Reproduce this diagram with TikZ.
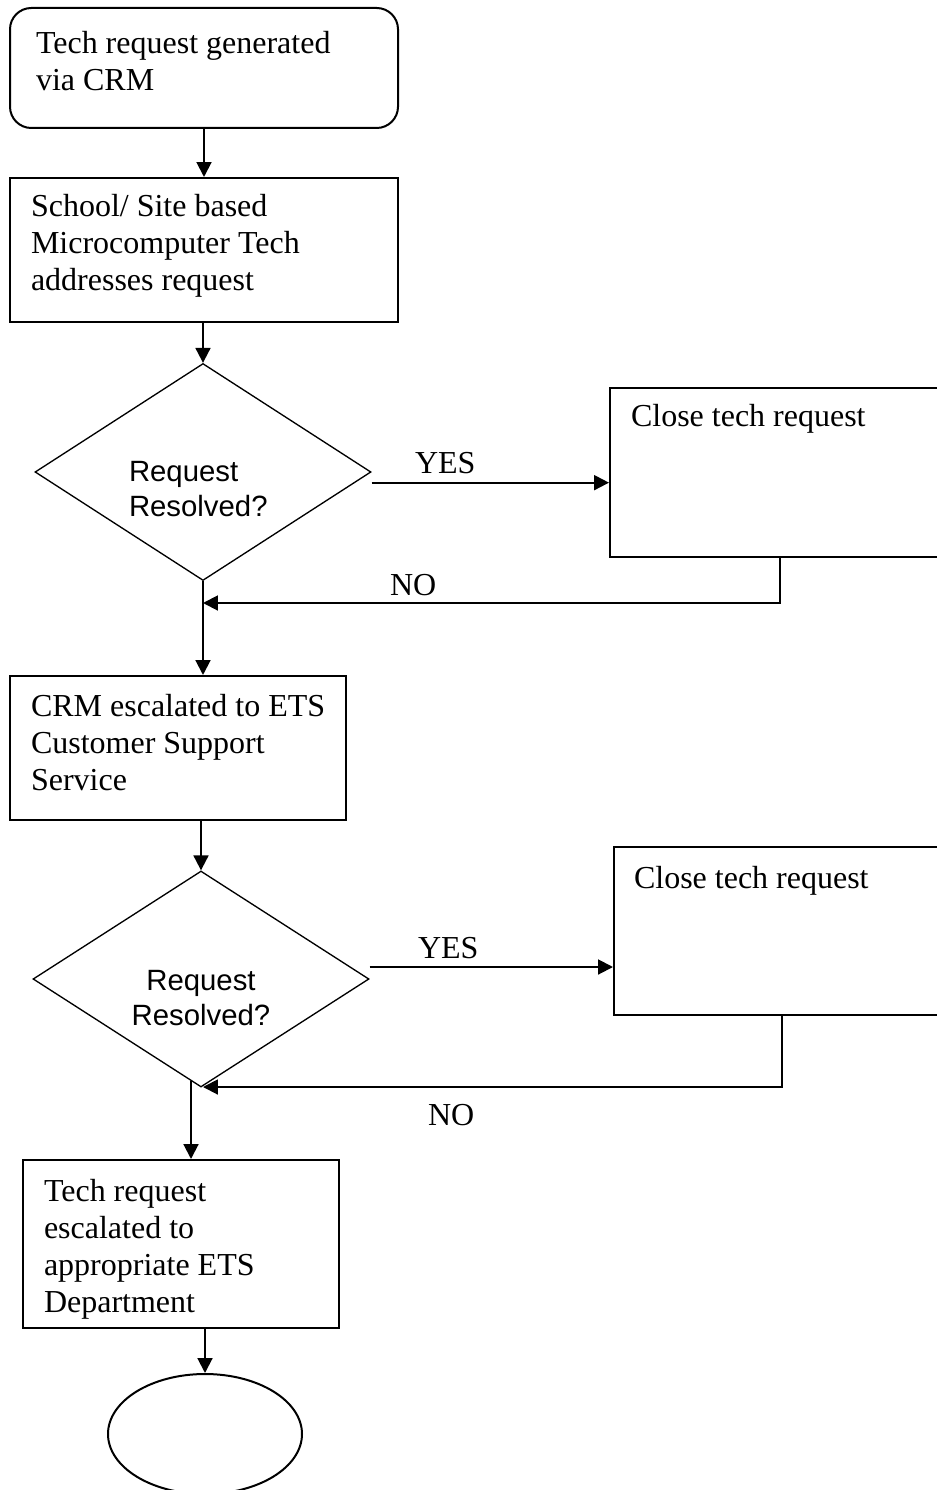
\documentclass[tikz,border=0pt]{standalone}
\usepackage{fontspec}
\setmainfont{Liberation Serif}
\newfontfamily\arialfont{Liberation Sans}
\usetikzlibrary{arrows.meta,shapes.geometric}
\newcommand*{\pxu}{0.375pt}
\begin{document}
\begin{tikzpicture}[x=0.375pt, y=-0.375pt, line width=0.75pt,
	flow/.style={-{Triangle[length=5.6pt,width=5.6pt]}},
	proc/.style={rectangle, draw, anchor=north west, inner sep=0pt},
	decision/.style={diamond, draw, line width=0.5pt, inner sep=0pt},
	txt/.style={inner sep=0pt, align=left, font=\fontsize{12}{13.875}\selectfont},
	qtxt/.style={inner sep=0pt, font=\arialfont\fontsize{11}{13.1}\selectfont}]
	\useasboundingbox (0,0) rectangle (937,1490);
	\clip (0,0) rectangle (937,1490);
	% boxes
	\node (gen)    at (9,7)      [proc, rounded corners=8pt, minimum width=388*\pxu, minimum height=120*\pxu] {};
	\node (site)   at (9,177)    [proc, minimum width=388*\pxu, minimum height=144*\pxu] {};
	\node (dec1)   at (203,472)  [decision, minimum width=336*\pxu, minimum height=217*\pxu] {};
	\node (close1) at (609,387)  [proc, minimum width=340*\pxu, minimum height=169*\pxu] {};
	\node (ets)    at (9,675)    [proc, minimum width=336*\pxu, minimum height=144*\pxu] {};
	\node (dec2)   at (201,979)  [decision, minimum width=336*\pxu, minimum height=216*\pxu] {};
	\node (close2) at (613,846)  [proc, minimum width=336*\pxu, minimum height=168*\pxu] {};
	\node (dept)   at (22,1159)  [proc, minimum width=316*\pxu, minimum height=168*\pxu] {};
	\node (stop)   at (205,1434) [ellipse, draw, minimum width=194*\pxu, minimum height=120*\pxu] {};
	% texts
	\node (t-gen)    at (35,30)    [txt, anchor=north west] {Tech request generated\\via CRM};
	\node (t-site)   at (30,193)   [txt, anchor=north west] {School/ Site based\\Microcomputer Tech\\addresses request};
	\node (t-dec1)   at (128,460)  [qtxt, anchor=north west, align=left] {Request\\Resolved?};
	\node (t-close1) at (630,427)  [txt, anchor=base west] {Close tech request};
	\node (t-ets)    at (30,693)   [txt, anchor=north west] {CRM escalated to ETS\\Customer Support\\Service};
	\node (t-dec2)   at (201,969)  [qtxt, anchor=north, align=center] {Request\\Resolved?};
	\node (t-close2) at (633,888)  [txt, anchor=base west] {Close tech request};
	\node (t-dept)   at (43,1178)  [txt, anchor=north west] {Tech request\\escalated to\\appropriate ETS\\Department};
	\node (yes1) at (414,474)  [txt, anchor=base west] {YES};
	\node (no1)  at (389,595)  [txt, anchor=base west] {NO};
	\node (yes2) at (417,958)  [txt, anchor=base west] {YES};
	\node (no2)  at (427,1125) [txt, anchor=base west] {NO};
	\coordinate (join1) at (203,603);
	\coordinate (join2) at (203,1087);
	% connectors
	\draw[flow] (gen.south) -- (gen.south |- site.north);
	\draw[flow] (dec1.north |- site.south) -- (dec1.north);
	\draw[flow] ([yshift=-4pt]dec1.east) -- ([yshift=-4pt]dec1.east -| close1.west);
	\draw[flow] (close1.south) |- (join1);
	\draw[flow] (dec1.south) -- (dec1.south |- ets.north);
	\draw[flow] (dec2.north |- ets.south) -- (dec2.north);
	\draw[flow] ([yshift=4.5pt]dec2.east) -- ([yshift=4.5pt]dec2.east -| close2.west);
	\draw[flow] (close2.south) |- (join2);
	\draw[flow] ([xshift=-3.75pt,yshift=2.4pt]dec2.south) -- ([xshift=-3.75pt]dec2.south |- dept.north);
	\draw[flow] (stop.north |- dept.south) -- (stop.north);
\end{tikzpicture}
\end{document}
